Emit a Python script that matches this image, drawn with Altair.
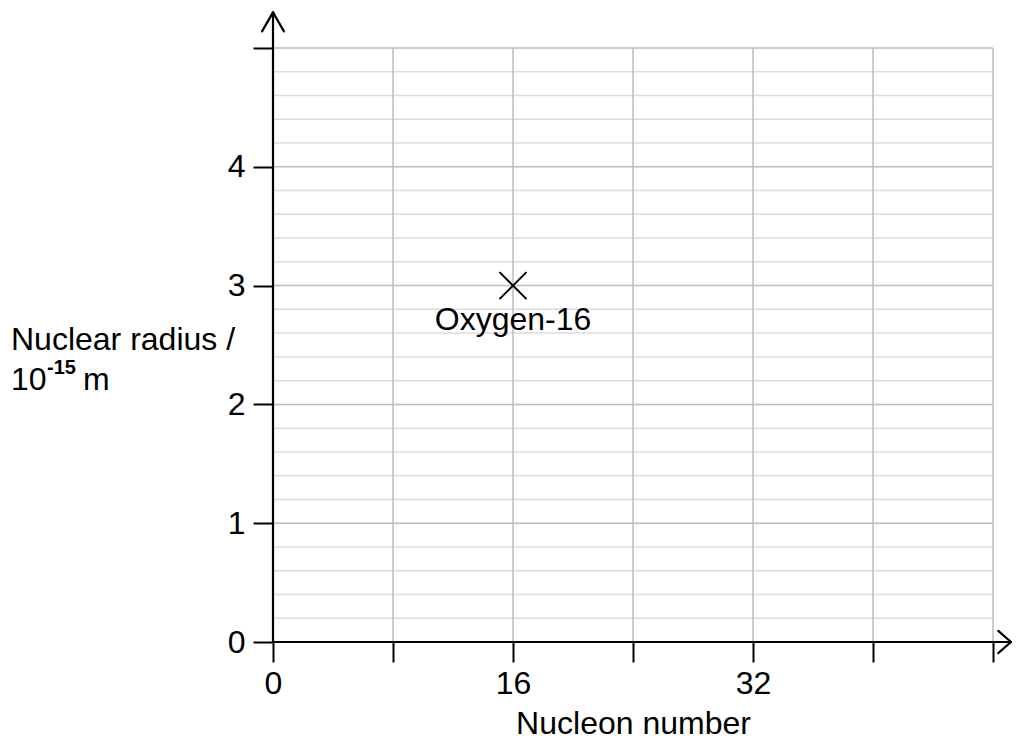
import altair as alt
import pandas as pd

# ---- data ----
nucleon = [16]
radius = [3.0]
names = ["Oxygen-16"]

x_ticks = [0, 8, 16, 24, 32, 40, 48]
x_labelled = [0, 16, 32]
y_ticks = [0, 1, 2, 3, 4, 5]
y_labelled = [0, 1, 2, 3, 4]
y_minor = [0.2, 0.4, 0.6, 0.8, 1.2, 1.4, 1.6, 1.8, 2.2, 2.4, 2.6, 2.8,
           3.2, 3.4, 3.6, 3.8, 4.2, 4.4, 4.6, 4.8]

X_MAX = 48
Y_MAX = 5
FONT = "Liberation Sans"
FS = 32

xs = alt.Scale(domain=[0, X_MAX], nice=False, zero=False)
ys = alt.Scale(domain=[0, Y_MAX], nice=False, zero=False)

x_axis = alt.Axis(
    values=x_ticks,
    labelExpr=f"indexof({x_labelled}, datum.value) >= 0 ? datum.label : ''",
    title="Nucleon number",
    domain=False, grid=False,
    tickSize=20, tickWidth=2, tickColor="black",
    labelFont=FONT, labelFontSize=FS, labelColor="black", labelPadding=6,
    labelFlush=False, labelOverlap=False, labelBound=False,
    titleFont=FONT, titleFontSize=FS, titleFontWeight="normal", titleColor="black",
    titlePadding=9,
)
y_axis = alt.Axis(
    values=y_ticks,
    labelExpr=f"indexof({y_labelled}, datum.value) >= 0 ? datum.label : ''",
    title=None,
    domain=False, grid=False,
    tickSize=20, tickWidth=2, tickColor="black",
    labelFont=FONT, labelFontSize=FS, labelColor="black", labelPadding=8,
    labelFlush=False, labelOverlap=False, labelBound=False,
)

# minor horizontal grid
minor_df = pd.DataFrame({"y": y_minor, "x0": 0, "x1": X_MAX})
minor = alt.Chart(minor_df).mark_rule(color="#dcdcdc", strokeWidth=1.5).encode(
    y=alt.Y("y:Q", scale=ys, axis=y_axis),
    x=alt.X("x0:Q", scale=xs, axis=x_axis),
    x2="x1:Q",
)

# major horizontal grid
major_df = pd.DataFrame({"y": y_ticks, "x0": 0, "x1": X_MAX})
major = alt.Chart(major_df).mark_rule(color="#bdbdbd", strokeWidth=1.5).encode(
    y=alt.Y("y:Q", scale=ys, axis=y_axis),
    x=alt.X("x0:Q", scale=xs, axis=x_axis),
    x2="x1:Q",
)

# vertical grid
vgrid_df = pd.DataFrame({"x": x_ticks, "y0": 0, "y1": Y_MAX})
vgrid = alt.Chart(vgrid_df).mark_rule(color="#bdbdbd", strokeWidth=1.5).encode(
    x=alt.X("x:Q", scale=xs, axis=x_axis),
    y=alt.Y("y0:Q", scale=ys, axis=y_axis),
    y2="y1:Q",
)

# axis lines with open arrow heads (extend past the plot area)
y_tip = 5.30
x_tip = 49.2
seg_df = pd.DataFrame({
    "xa": [0, 0, 0, 0, x_tip, x_tip],
    "ya": [0, 0, y_tip, y_tip, 0, 0],
    "xb": [0, x_tip, -0.73, 0.73, x_tip - 0.85, x_tip - 0.85],
    "yb": [y_tip, 0, y_tip - 0.16, y_tip - 0.16, 0.093, -0.093],
})
axes_lines = alt.Chart(seg_df).mark_rule(color="black", strokeWidth=2.2, strokeCap="round").encode(
    x=alt.X("xa:Q", scale=xs, axis=x_axis),
    y=alt.Y("ya:Q", scale=ys, axis=y_axis),
    x2="xb:Q",
    y2="yb:Q",
)

pts = pd.DataFrame({"n": nucleon, "r": radius, "name": names})

point = alt.Chart(pts).mark_point(
    shape="M-1,-1L1,1M-1,1L1,-1", size=729, filled=False,
    strokeWidth=2, color="black", opacity=1,
).encode(
    x=alt.X("n:Q", scale=xs, axis=x_axis),
    y=alt.Y("r:Q", scale=ys, axis=y_axis),
)

label = alt.Chart(pts).mark_text(
    dy=44, align="center", baseline="alphabetic",
    font=FONT, fontSize=FS, color="black",
).encode(
    x=alt.X("n:Q", scale=xs, axis=x_axis),
    y=alt.Y("r:Q", scale=ys, axis=y_axis),
    text="name:N",
)

one = alt.Data(values=[{"a": 1}])
t1 = alt.Chart(one).mark_text(
    text="Nuclear radius /", align="left", baseline="alphabetic",
    font=FONT, fontSize=FS, color="black",
).encode(x=alt.value(-262), y=alt.value(302))
t2 = alt.Chart(one).mark_text(
    text="10", align="left", baseline="alphabetic",
    font=FONT, fontSize=FS, color="black",
).encode(x=alt.value(-262), y=alt.value(342))
t3 = alt.Chart(one).mark_text(
    text="-15", align="left", baseline="alphabetic",
    font=FONT, fontSize=20, fontWeight="bold", color="black",
).encode(x=alt.value(-226), y=alt.value(326))
t4 = alt.Chart(one).mark_text(
    text="m", align="left", baseline="alphabetic",
    font=FONT, fontSize=FS, color="black",
).encode(x=alt.value(-190), y=alt.value(342))

chart = alt.layer(
    minor, major, vgrid, axes_lines, point, label, t1, t2, t3, t4
).properties(
    width=720, height=594,
    padding={"left": 265, "top": 40, "right": 19, "bottom": 100},
    autosize=alt.AutoSizeParams(type="none"),
).configure_view(stroke=None)

chart.save("out.html", embed_options={"renderer": "svg", "actions": False})
